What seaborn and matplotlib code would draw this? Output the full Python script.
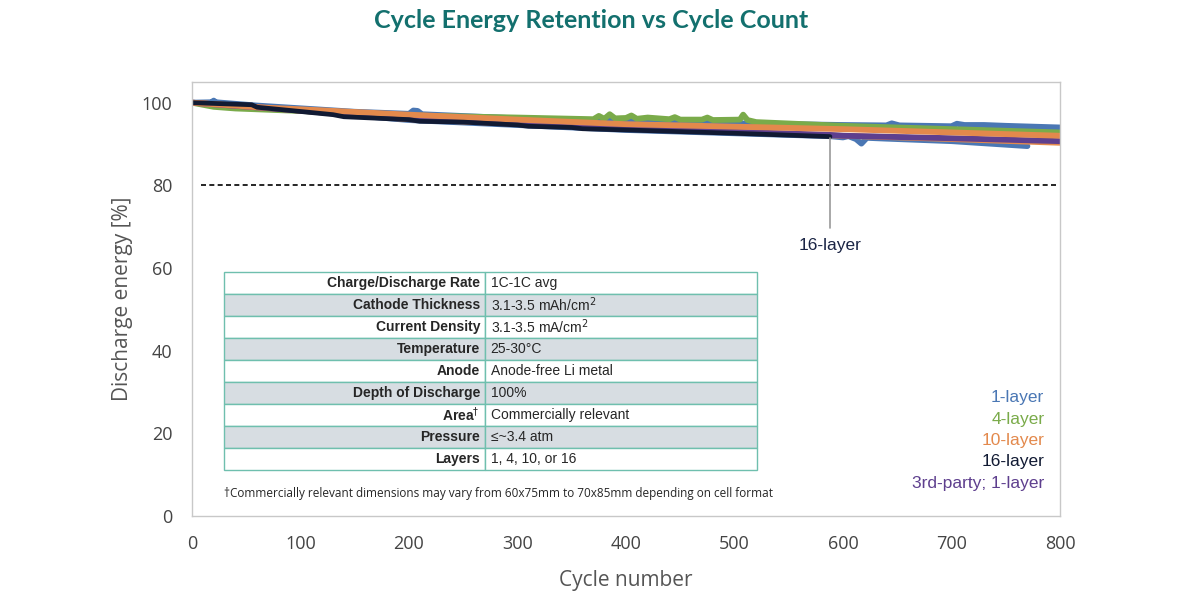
import pandas as pd
import seaborn as sns
import matplotlib.pyplot as plt

# data (cycle, discharge energy %)
cyc_1a = [0, 18, 20, 22, 60, 150, 200, 204, 208, 212, 300, 400, 500, 600, 640, 645, 652, 700, 705, 712, 730, 750, 800]
val_1a = [100, 100.1, 100.5, 100.1, 99.3, 97.8, 97.3, 98.1, 98.0, 97.2, 96.2, 95.6, 95.0, 94.6, 94.5, 95.0, 94.5, 94.3, 94.9, 94.6, 94.6, 94.4, 94.0]
cyc_1b = [0, 60, 200, 400, 588, 600, 605, 612, 617, 622, 640, 700, 770]
val_1b = [100, 99.0, 95.8, 93.4, 91.9, 91.6, 91.9, 91.2, 90.1, 91.5, 91.3, 90.7, 89.5]
cyc_4 = [0, 20, 40, 60, 100, 200, 300, 370, 375, 380, 385, 390, 400, 405, 410, 420, 440, 445, 450,
         470, 475, 480, 505, 508, 512, 520, 600, 700, 800]
val_4 = [100, 99.0, 98.6, 98.4, 98.0, 96.9, 96.4, 96.0, 96.8, 96.1, 97.2, 96.2, 96.3, 96.9, 96.1,
         96.4, 96.0, 96.5, 95.9, 95.9, 96.4, 95.8, 95.9, 97.1, 95.8, 95.3, 94.4, 93.6, 92.8]
cyc_10a = [0, 40, 60, 100, 200, 300, 400, 500, 600, 700, 800]
val_10a = [100, 99.3, 98.9, 98.4, 97.1, 95.9, 94.8, 94.2, 93.6, 92.8, 92.0]
cyc_10b = [0, 60, 200, 400, 600, 700, 800]
val_10b = [100, 98.9, 96.0, 93.8, 92.0, 91.2, 90.3]
cyc_3p = [0, 200, 400, 588, 600, 700, 800]
val_3p = [100, 96.2, 93.8, 92.2, 92.0, 91.4, 90.7]
cyc_16 = [0, 55, 60, 130, 140, 200, 210, 250, 300, 310, 350, 360, 400, 500, 588]
val_16 = [100, 99.5, 98.9, 97.1, 96.6, 95.9, 95.5, 95.3, 94.6, 94.3, 94.0, 93.7, 93.4, 92.6, 91.8]

series = [("1-layer b", cyc_1b, val_1b), ("1-layer a", cyc_1a, val_1a), ("4-layer", cyc_4, val_4),
          ("10-layer b", cyc_10b, val_10b), ("3rd-party", cyc_3p, val_3p),
          ("10-layer a", cyc_10a, val_10a), ("16-layer", cyc_16, val_16)]

legend_labels = ["1-layer", "4-layer", "10-layer", "16-layer", "3rd-party; 1-layer"]
legend_colors = ["#4a77b4", "#7aab4a", "#e3894c", "#111a33", "#5e3f8e"]
palette = {"1-layer a": "#4a77b4", "1-layer b": "#4a77b4", "4-layer": "#7aab4a",
           "10-layer a": "#e3894c", "10-layer b": "#e3894c", "3rd-party": "#5e3f8e",
           "16-layer": "#111a33"}

table_keys = ["Charge/Discharge Rate", "Cathode Thickness", "Current Density", "Temperature",
              "Anode", "Depth of Discharge", "Area$^{\\dagger}$", "Pressure", "Layers"]
table_vals = ["1C-1C avg", "3.1-3.5 mAh/cm$^2$", "3.1-3.5 mA/cm$^2$", "25-30°C",
              "Anode-free Li metal", "100%", "Commercially relevant", "≤~3.4 atm", "1, 4, 10, or 16"]

sns.set_style("white")
plt.rcParams['font.family'] = ['Liberation Sans', 'DejaVu Sans']

fig = plt.figure(figsize=(12, 6), dpi=100)
ax = fig.add_axes([0.16, 0.14, 0.7233, 0.7233])

for name, c, v in series:
    df = pd.DataFrame({"cycle": c, "energy": v})
    lw = 3.4 if name == "16-layer" else 4.2
    sns.lineplot(data=df, x="cycle", y="energy", color=palette[name], linewidth=lw, ax=ax,
                 estimator=None, sort=False)

ax.axhline(80, xmin=0.01, xmax=0.995, color="black", linestyle=(0, (3, 2)), linewidth=1.2)
ax.plot([588, 588], [69.8, 91.4], color="#9a9a9a", linewidth=1.2)
ax.text(588, 65.5, "16-layer", color="#1b2545", fontsize=12.5, ha="center", va="center")

ax.set_xlim(0, 800)
ax.set_ylim(0, 105)
ax.set_xticks(range(0, 801, 100))
ax.set_yticks(range(0, 101, 20))
ax.tick_params(axis="both", labelsize=13, labelcolor="#444444", direction="in",
               length=4, color="#c8c8c8", pad=14)
ax.tick_params(axis="y", length=0, pad=14)
for lab in ax.get_xticklabels() + ax.get_yticklabels():
    lab.set_family(["Open Sans", "DejaVu Sans"])
for s in ax.spines.values():
    s.set_color("#c8c8c8")
    s.set_linewidth(1.0)
ax.set_xlabel("Cycle number", fontsize=15, color="#555555", family=["Open Sans", "DejaVu Sans"], labelpad=12)
ax.set_ylabel("Discharge energy [%]", fontsize=15, color="#555555", family=["Open Sans", "DejaVu Sans"], labelpad=6)

# legend as coloured text
for i, (lab, col) in enumerate(zip(legend_labels, legend_colors)):
    ax.text(0.982, 0.272 - i * 0.049, lab, color=col, fontsize=12.5, ha="right", va="center",
            transform=ax.transAxes)

# parameter table
rows = [[k, v] for k, v in zip(table_keys, table_vals)]
shade = "#d7dde2"
colors = [["white", "white"] if i % 2 == 0 else [shade, shade] for i in range(len(rows))]
tbl = ax.table(cellText=rows, cellColours=colors, bbox=[0.037, 0.106, 0.614, 0.456],
               colWidths=[0.49, 0.51])
tbl.auto_set_font_size(False)
for (r, c), cell in tbl.get_celld().items():
    cell.set_edgecolor("#6fbfae")
    cell.set_linewidth(1.0)
    txt = cell.get_text()
    txt.set_fontsize(10)
    cell.PAD = 0.02
    if c == 0:
        txt.set_ha("right")
        txt.set_fontweight("bold")
        cell._loc = "right"
    else:
        txt.set_ha("left")
        cell._loc = "left"

ax.text(0.037, 0.051, "†Commercially relevant dimensions may vary from 60x75mm to 70x85mm depending on cell format",
        fontsize=8.5, ha="left", va="center", transform=ax.transAxes, family=["Open Sans", "DejaVu Sans"])

fig.text(0.493, 0.965, "Cycle Energy Retention vs Cycle Count", fontsize=18, fontweight="bold",
         color="#13706e", ha="center", va="center", family=["Lato", "DejaVu Sans"])

fig.savefig("out.png", dpi=100)
